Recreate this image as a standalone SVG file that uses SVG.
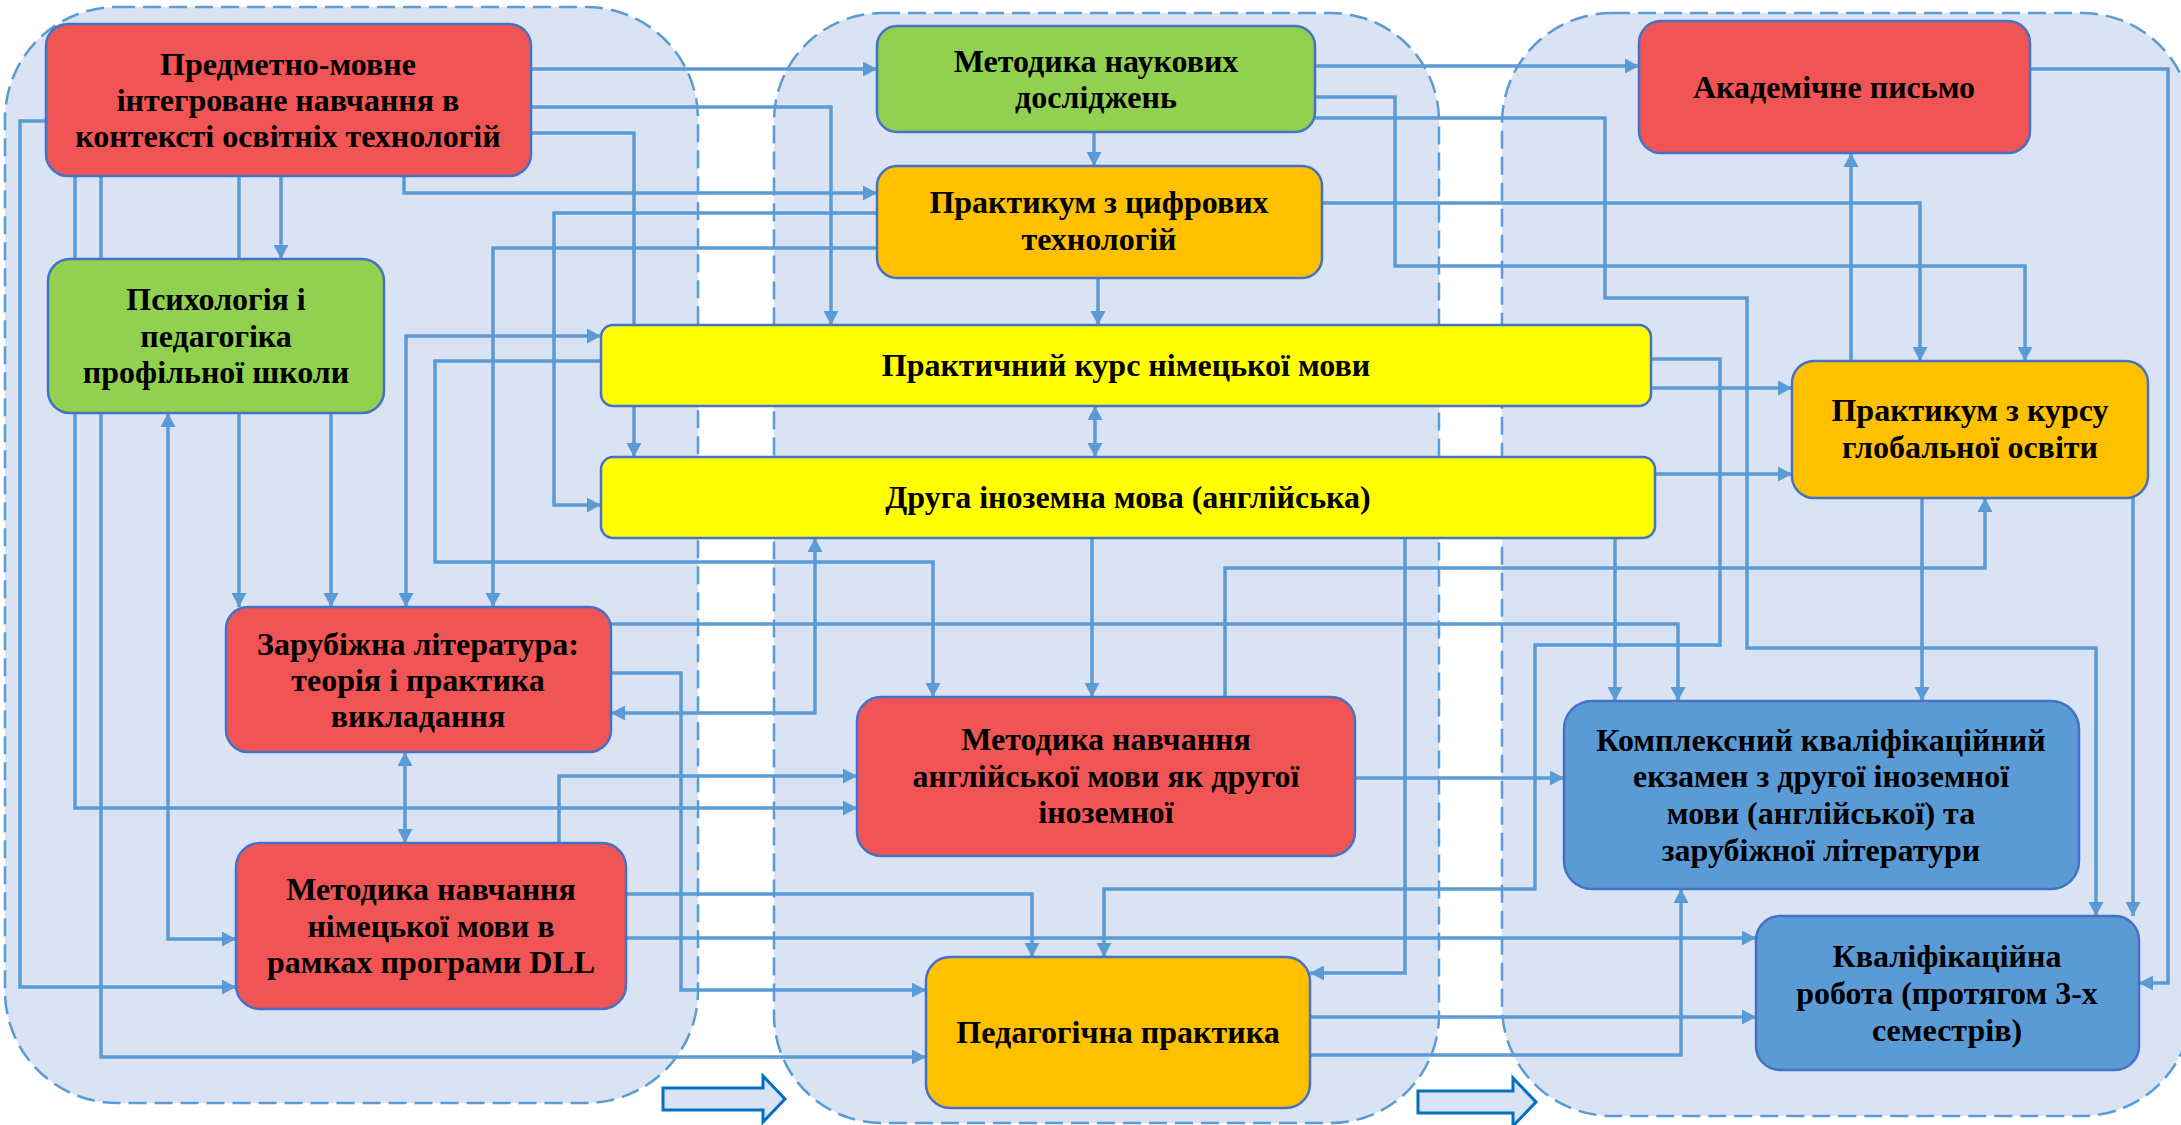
<svg xmlns="http://www.w3.org/2000/svg" width="2181" height="1125" viewBox="0 0 2181 1125">
<style>
.bg{fill:#ffffff}
.cont{fill:#DAE3F3;stroke:#5B9BD5;stroke-width:2.5;stroke-dasharray:18 8}
.node{stroke:#4472C4;stroke-width:2.5}
.red{fill:#F15454}
.green{fill:#92D050}
.orange{fill:#FFC000}
.yellow{fill:#FFFF00}
.blue{fill:#5B9BD5}
.t{font-family:"Liberation Serif","Times New Roman",serif;font-weight:bold;font-size:32px;fill:#000000;text-anchor:middle}
.c{fill:none;stroke:#5B9BD5;stroke-width:3.5;marker-end:url(#ah)}
.bi{marker-start:url(#ah)}
.hollow{fill:#DAE3F3;stroke:#0070C0;stroke-width:3}
</style>
<defs>
<marker id="ah" viewBox="0 0 14 15" refX="14" refY="7.5" markerWidth="14" markerHeight="15" markerUnits="userSpaceOnUse" orient="auto-start-reverse">
<path d="M0,0 L14,7.5 L0,15 z" fill="#5B9BD5"/>
</marker>
</defs>
<rect class="bg" x="0" y="0" width="2181" height="1125"/>
<g id="containers">
<rect class="cont" x="5" y="7" width="693" height="1096" rx="112" ry="112"/>
<rect class="cont" x="774" y="13" width="665" height="1110" rx="108" ry="108"/>
<rect class="cont" x="1502" y="13" width="690" height="1103" rx="110" ry="110"/>
</g>
<g id="hollow-arrows">
<path class="hollow" d="M663,1088 H763 V1076 L785,1099 L763,1122 V1110 H663 Z"/>
<path class="hollow" d="M1418,1091 H1513 V1078 L1536,1102 L1513,1126 V1113 H1418 Z"/>
</g>
<g id="connectors">
<path class="c" d="M531,69 H877"/>
<path class="c" d="M531,107 H831 V325"/>
<path class="c" d="M531,133 H634 V457"/>
<path class="c" d="M404,176 V193 H877"/>
<path class="c" d="M877,213 H554 V505 H601"/>
<path class="c" d="M877,248 H493 V607"/>
<path class="c bi" d="M601,336 H406 V607"/>
<path class="c" d="M601,361 H435 V562 H933 V697"/>
<path class="c" d="M46,121 H20 V987 H236"/>
<path class="c" d="M75,176 V808 H857"/>
<path class="c" d="M101,176 V1057 H926"/>
<path class="c" d="M239,176 V607"/>
<path class="c" d="M281,176 V259"/>
<path class="c" d="M331,413 V607"/>
<path class="c bi" d="M168,413 V939 H236"/>
<path class="c bi" d="M405,752 V843"/>
<path class="c" d="M611,624 H1678 V701"/>
<path class="c" d="M611,673 H681 V990 H926"/>
<path class="c bi" d="M815,538 V713 H611"/>
<path class="c" d="M559,843 V776 H857"/>
<path class="c" d="M626,894 H1032 V957"/>
<path class="c" d="M626,938 H1756"/>
<path class="c" d="M1094,132 V166"/>
<path class="c" d="M1098,278 V325"/>
<path class="c bi" d="M1095,406 V457"/>
<path class="c" d="M1092,538 V697"/>
<path class="c" d="M1225,697 V568 H1985 V498"/>
<path class="c" d="M1405,538 V973 H1310"/>
<path class="c" d="M1650,359 H1720 V645 H1535 V889 H1104 V957"/>
<path class="c" d="M1355,778 H1564"/>
<path class="c" d="M1310,1017 H1756"/>
<path class="c" d="M1310,1055 H1681 V889"/>
<path class="c" d="M1315,66 H1639"/>
<path class="c" d="M1315,97 H1395 V266 H2025 V361"/>
<path class="c" d="M1315,118 H1605 V298 H1747 V648 H2096 V916"/>
<path class="c" d="M1322,203 H1920 V361"/>
<path class="c" d="M1651,388 H1792"/>
<path class="c" d="M1655,474 H1792"/>
<path class="c" d="M1615,538 V701"/>
<path class="c" d="M1851,361 V153"/>
<path class="c" d="M1922,498 V701"/>
<path class="c" d="M2133,498 V916"/>
<path class="c" d="M2030,69 H2168 V983 H2139"/>
</g>
<g id="nodeA">
<rect class="node red" x="46" y="24" width="485" height="152" rx="22"/>
<text class="t" x="288" y="75">Предметно-мовне</text>
<text class="t" x="288" y="111">інтегроване навчання в</text>
<text class="t" x="288" y="147">контексті освітніх технологій</text>
</g>
<g id="nodeB">
<rect class="node green" x="48" y="259" width="336" height="154" rx="22"/>
<text class="t" x="216" y="310">Психологія і</text>
<text class="t" x="216" y="347">педагогіка</text>
<text class="t" x="216" y="383">профільної школи</text>
</g>
<g id="nodeC">
<rect class="node green" x="877" y="26" width="438" height="106" rx="20"/>
<text class="t" x="1096" y="72">Методика наукових</text>
<text class="t" x="1096" y="108">досліджень</text>
</g>
<g id="nodeD">
<rect class="node orange" x="877" y="166" width="445" height="112" rx="20"/>
<text class="t" x="1099" y="213">Практикум з цифрових</text>
<text class="t" x="1099" y="250">технологій</text>
</g>
<g id="nodeE">
<rect class="node yellow" x="601" y="325" width="1050" height="81" rx="12"/>
<text class="t" x="1126" y="376">Практичний курс німецької мови</text>
</g>
<g id="nodeF">
<rect class="node yellow" x="601" y="457" width="1054" height="81" rx="12"/>
<text class="t" x="1128" y="508">Друга іноземна мова (англійська)</text>
</g>
<g id="nodeG">
<rect class="node red" x="226" y="607" width="385" height="145" rx="22"/>
<text class="t" x="418" y="655">Зарубіжна література:</text>
<text class="t" x="418" y="691">теорія і практика</text>
<text class="t" x="418" y="727">викладання</text>
</g>
<g id="nodeH">
<rect class="node red" x="857" y="697" width="498" height="159" rx="24"/>
<text class="t" x="1106" y="750">Методика навчання</text>
<text class="t" x="1106" y="787">англійської мови як другої</text>
<text class="t" x="1106" y="823">іноземної</text>
</g>
<g id="nodeI">
<rect class="node red" x="236" y="843" width="390" height="166" rx="24"/>
<text class="t" x="431" y="900">Методика навчання</text>
<text class="t" x="431" y="937">німецької мови в</text>
<text class="t" x="431" y="973">рамках програми DLL</text>
</g>
<g id="nodeJ">
<rect class="node orange" x="926" y="957" width="384" height="151" rx="24"/>
<text class="t" x="1118" y="1043">Педагогічна практика</text>
</g>
<g id="nodeK">
<rect class="node red" x="1639" y="21" width="391" height="132" rx="22"/>
<text class="t" x="1834" y="98">Академічне письмо</text>
</g>
<g id="nodeL">
<rect class="node orange" x="1792" y="361" width="356" height="137" rx="22"/>
<text class="t" x="1970" y="421">Практикум з курсу</text>
<text class="t" x="1970" y="458">глобальної освіти</text>
</g>
<g id="nodeM">
<rect class="node blue" x="1564" y="701" width="515" height="188" rx="28"/>
<text class="t" x="1821" y="751">Комплексний кваліфікаційний</text>
<text class="t" x="1821" y="787">екзамен з другої іноземної</text>
<text class="t" x="1821" y="824">мови (англійської) та</text>
<text class="t" x="1821" y="861">зарубіжної літератури</text>
</g>
<g id="nodeN">
<rect class="node blue" x="1756" y="916" width="383" height="154" rx="24"/>
<text class="t" x="1947" y="967">Кваліфікаційна</text>
<text class="t" x="1947" y="1004">робота (протягом 3-х</text>
<text class="t" x="1947" y="1041">семестрів)</text>
</g>
</svg>
